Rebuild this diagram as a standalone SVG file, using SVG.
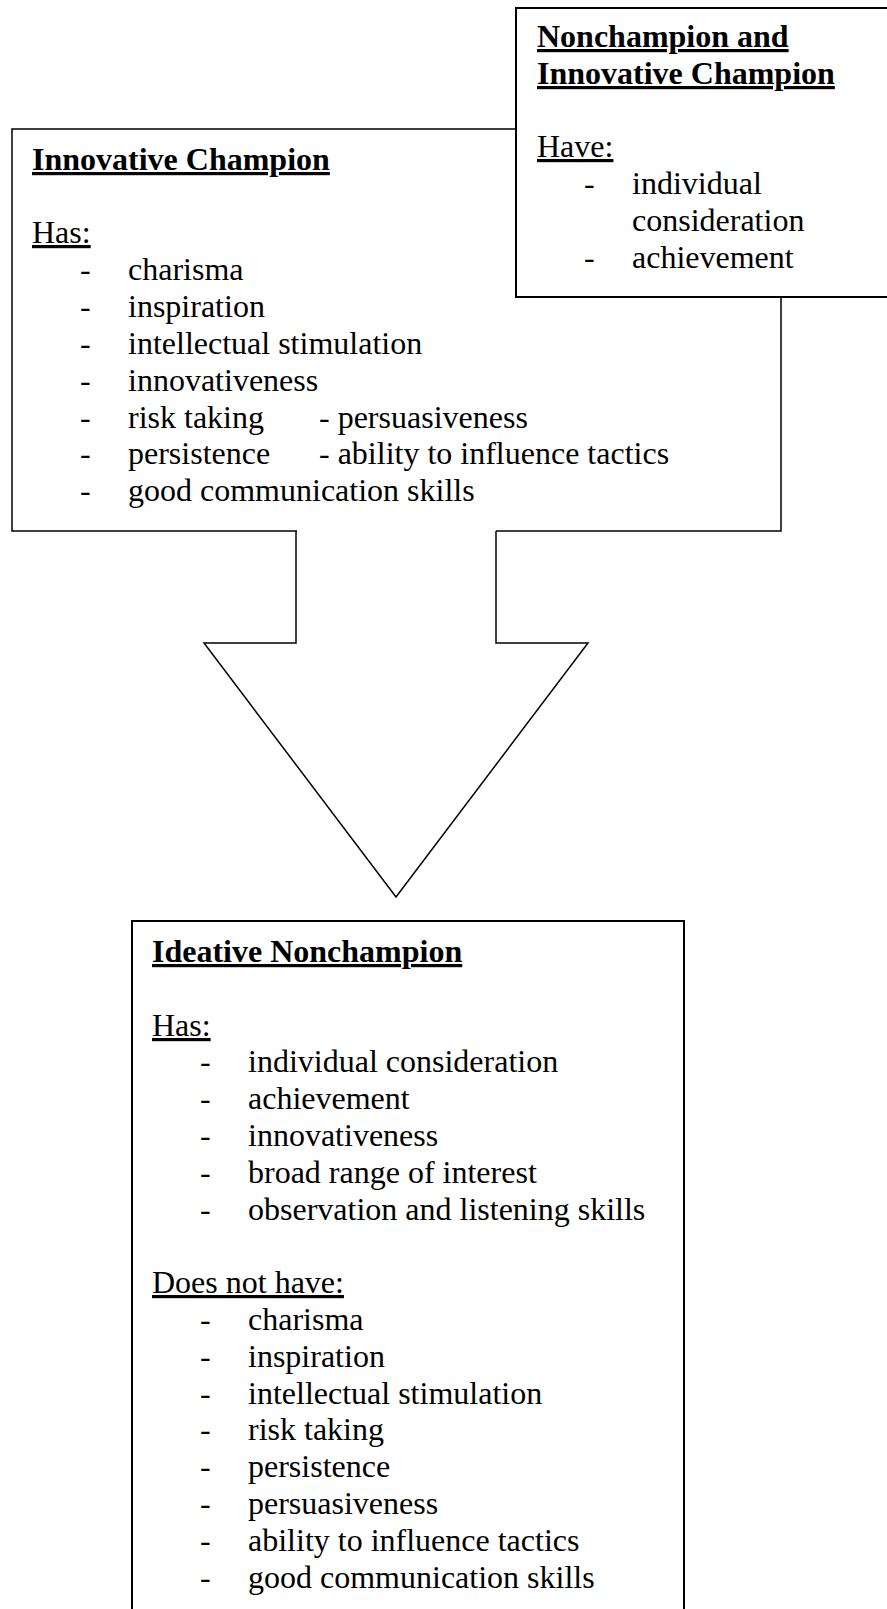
<svg xmlns="http://www.w3.org/2000/svg" width="887" height="1609" viewBox="0 0 887 1609">
<style>
text{font-family:"Liberation Serif","Times New Roman",serif;font-size:32px;fill:#000}
.t{font-weight:bold;text-decoration:underline}
.h{text-decoration:underline}
.box{fill:#fff;stroke:#000;stroke-width:2}
.thin{fill:#fff;stroke:#000;stroke-width:1.5}
</style>
<rect width="887" height="1609" fill="#fff"/>
<g id="innovative-champion">
<rect class="thin" x="12" y="129" width="769" height="402"/>
<text class="t" x="32" y="170">Innovative Champion</text>
<text class="h" x="32" y="243">Has:</text>
<g>
<text x="80" y="280">-</text><text x="128" y="280">charisma</text>
<text x="80" y="317">-</text><text x="128" y="317">inspiration</text>
<text x="80" y="354">-</text><text x="128" y="354">intellectual stimulation</text>
<text x="80" y="391">-</text><text x="128" y="391">innovativeness</text>
<text x="80" y="428">-</text><text x="128" y="428">risk taking</text><text x="319" y="428">- persuasiveness</text>
<text x="80" y="464">-</text><text x="128" y="464">persistence</text><text x="319" y="464">- ability to influence tactics</text>
<text x="80" y="501">-</text><text x="128" y="501">good communication skills</text>
</g>
</g>
<g id="connectors">
<polygon points="297,528 496,528 496,643 588,643 396,897 204,643 297,643" fill="#fff" stroke="none"/>
<polyline points="296,531 296,643 204,643 396,897 588,643 496,643 496,531" fill="none" stroke="#000" stroke-width="1.5" stroke-linejoin="miter"/>
</g>
<g id="nonchampion-and-innovative-champion">
<rect class="box" x="516" y="8" width="380" height="289"/>
<text class="t" x="537" y="47">Nonchampion and</text>
<text class="t" x="537" y="84">Innovative Champion</text>
<text class="h" x="537" y="157">Have:</text>
<text x="584" y="194">-</text><text x="632" y="194">individual</text>
<text x="632" y="231">consideration</text>
<text x="584" y="268">-</text><text x="632" y="268">achievement</text>
</g>
<g id="ideative-nonchampion">
<rect class="box" x="132" y="921" width="552" height="700"/>
<text class="t" x="152" y="962">Ideative Nonchampion</text>
<text class="h" x="152" y="1036">Has:</text>
<text x="200" y="1072">-</text><text x="248" y="1072">individual consideration</text>
<text x="200" y="1109">-</text><text x="248" y="1109">achievement</text>
<text x="200" y="1146">-</text><text x="248" y="1146">innovativeness</text>
<text x="200" y="1183">-</text><text x="248" y="1183">broad range of interest</text>
<text x="200" y="1220">-</text><text x="248" y="1220">observation and listening skills</text>
<text class="h" x="152" y="1293">Does not have:</text>
<text x="200" y="1330">-</text><text x="248" y="1330">charisma</text>
<text x="200" y="1367">-</text><text x="248" y="1367">inspiration</text>
<text x="200" y="1404">-</text><text x="248" y="1404">intellectual stimulation</text>
<text x="200" y="1440">-</text><text x="248" y="1440">risk taking</text>
<text x="200" y="1477">-</text><text x="248" y="1477">persistence</text>
<text x="200" y="1514">-</text><text x="248" y="1514">persuasiveness</text>
<text x="200" y="1551">-</text><text x="248" y="1551">ability to influence tactics</text>
<text x="200" y="1588">-</text><text x="248" y="1588">good communication skills</text>
</g>
</svg>
